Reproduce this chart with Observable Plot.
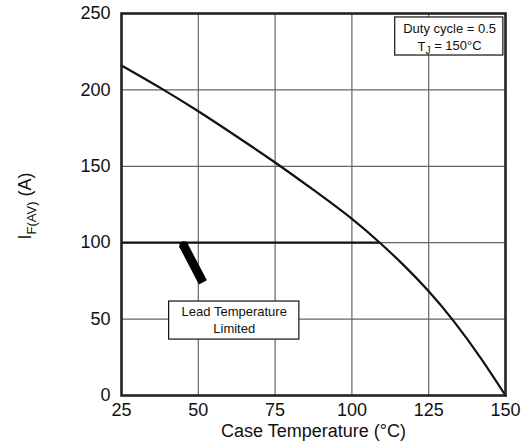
<!DOCTYPE html>
<html>
<head>
<meta charset="utf-8">
<script src="https://cdn.jsdelivr.net/npm/d3@7"></script>
<script src="https://cdn.jsdelivr.net/npm/@observablehq/plot@0.6"></script>
<style>
  html, body { margin: 0; padding: 0; background: #fff; }
  #chart svg { display: block; }
</style>
</head>
<body>
<div id="chart"></div>
<script>
// Data
const caseTemp = [25, 37.5, 50, 62.5, 75, 87.5, 100, 109.1, 117, 125, 133.2, 142, 150];
const currentAvg = [216, 201.5, 186, 169.5, 152.5, 134.5, 115.6, 100, 85, 68.2, 48.5, 24.3, 0];
const xTicks = [25, 50, 75, 100, 125, 150];
const yTicks = [0, 50, 100, 150, 200, 250];
const xGrid = [50, 75, 100, 125];
const yGrid = [50, 100, 150, 200];
const leadLimit = [100];        // A
const leadLimitEnd = [109.1];   // °C, where the limit meets the curve
const dutyNote = ["Duty cycle = 0.5", "TJ = 150°C"];
const leadNote = ["Lead Temperature", "Limited"];

const curve = caseTemp.map((t, i) => ({t, a: currentAvg[i]}));
const font = "'Liberation Sans', Arial, Helvetica, sans-serif";

const plot = Plot.plot({
  width: 528,
  height: 446,
  marginLeft: 121,
  marginRight: 23,
  marginTop: 13,
  marginBottom: 51,
  style: {fontFamily: font, fontSize: "18px", color: "#111", background: "#fff"},
  x: {domain: [25, 150], label: null},
  y: {domain: [0, 250], label: null},
  marks: [
    Plot.ruleX(xGrid, {stroke: "#666", strokeWidth: 1.2}),
    Plot.ruleY(yGrid, {stroke: "#666", strokeWidth: 1.2}),
    Plot.axisX({ticks: xTicks, tickSize: 0, tickPadding: 8, fontSize: 18, label: null}),
    Plot.axisY({ticks: yTicks, tickSize: 0, tickPadding: 11, fontSize: 18, label: null}),
    Plot.ruleY(leadLimit, {x1: 25, x2: leadLimitEnd[0], stroke: "#111", strokeWidth: 2.2}),
    Plot.line(curve, {x: "t", y: "a", curve: "natural", stroke: "#111", strokeWidth: 2.2}),
    Plot.link([0], {x1: 45, y1: 99, x2: 51.5, y2: 74, stroke: "#000", strokeWidth: 9, strokeLinecap: "butt"}),
    Plot.dot([0], {x: 45.3, y: 98, r: 4.5, fill: "#000"}),
    Plot.rect([0], {x1: 40.5, x2: 82.9, y1: 36.6, y2: 61.5, fill: "#fff", stroke: "#111", strokeWidth: 1.2}),
    Plot.text(leadNote, {x: 61.7, y: (d, i) => [55, 43.8][i], text: d => d, fontSize: 13, fill: "#111"}),
    Plot.rect([0], {x1: 114.1, x2: 149.3, y1: 222.5, y2: 247.4, fill: "#fff", stroke: "#111", strokeWidth: 1.2}),
    Plot.text(dutyNote, {x: 131.8, y: (d, i) => [240.2, 228.4][i], text: d => d, fontSize: 13, fill: "#111"}),
    Plot.frame({stroke: "#222", strokeWidth: 2.6}),
    Plot.text(["Case Temperature (°C)"], {frameAnchor: "bottom", lineAnchor: "middle", dy: 36, text: d => d, fontSize: 18, fill: "#111"})
  ]
});

const svg = d3.select(plot);
// subscript for T_J
svg.selectAll("text").each(function() {
  if (this.textContent === "TJ = 150°C") {
    const t = d3.select(this);
    t.text("");
    t.append("tspan").text("T");
    t.append("tspan").attr("font-size", 10).attr("dy", "0.35em").text("J");
    t.append("tspan").attr("dy", "-0.35em").text(" = 150°C");
  }
});
// y-axis label with subscript
const yl = svg.append("text")
  .attr("transform", "translate(31,206) rotate(-90)")
  .attr("text-anchor", "middle")
  .attr("font-family", font)
  .attr("font-size", 18)
  .attr("fill", "#111");
yl.append("tspan").text("I");
yl.append("tspan").attr("font-size", 13).attr("dy", "0.4em").text("F(AV)");
yl.append("tspan").attr("dy", "-0.28em").text(" (A)");

document.getElementById("chart").appendChild(plot);
</script>
</body>
</html>
